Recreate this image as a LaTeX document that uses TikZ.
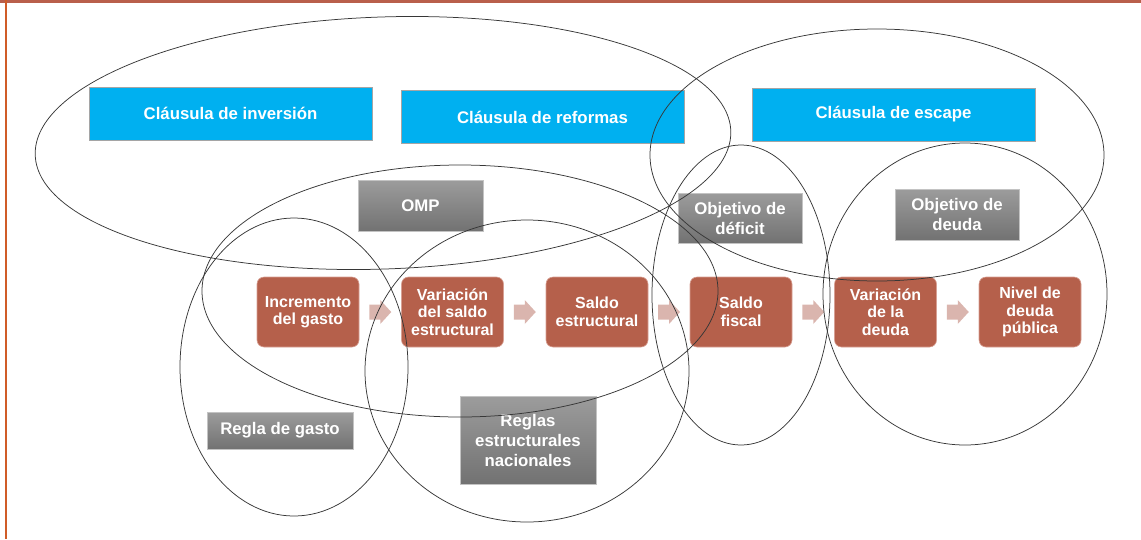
\documentclass[tikz,border=0pt]{standalone}
\usepackage{fontspec}
\setmainfont{Liberation Sans}
\usetikzlibrary{calc}
\definecolor{framecolA}{RGB}{185,95,75}
\definecolor{framecolB}{RGB}{208,92,40}
\definecolor{bluebox}{RGB}{0,176,240}
\definecolor{blueedge}{RGB}{165,165,165}
\definecolor{redbox}{RGB}{181,96,75}
\definecolor{rededge}{RGB}{215,160,148}
\definecolor{pinkarrow}{RGB}{218,181,174}
\definecolor{graytop}{RGB}{156,156,156}
\definecolor{graybot}{RGB}{114,114,114}
\definecolor{grayedge}{RGB}{195,195,195}
\definecolor{ellcol}{RGB}{55,55,55}
\begin{document}
\begin{tikzpicture}[x=1pt,y=-1pt,
  bluebx/.style={draw=blueedge, fill=bluebox, line width=0.7pt, inner sep=0pt,
    minimum width=283pt, minimum height=53pt, text=white,
    font=\fontsize{16.8}{20}\selectfont\bfseries, align=center},
  graybx/.style={draw=grayedge, top color=graytop, bottom color=graybot, line width=0.7pt,
    inner sep=0pt, text=white, font=\fontsize{16.8}{20}\selectfont\bfseries, align=center},
  redbx/.style={draw=rededge, fill=redbox, line width=0.6pt, rounded corners=7pt, inner sep=0pt,
    minimum width=102pt, minimum height=70pt, text=white,
    font=\fontsize{16}{17.5}\selectfont\bfseries, align=center},
  blockarrow/.style={fill=pinkarrow, draw=none},
  ell/.style={draw=ellcol, line width=0.75pt}
]
\useasboundingbox (0,0) rectangle (1141,539);
% frame
\fill[framecolA] (0,0) rectangle (1141,3);
\fill[framecolB] (5,0) rectangle (7.3,539);

% blue boxes
\node[bluebx] (inv) at (230.5,113.5) {Cláusula de inversión};
\node[bluebx] (ref) at (542.5,117) {Cláusula de reformas};
\node[bluebx] (esc) at (893.5,114.5) {Cláusula de escape};

% gray boxes
\node[graybx, minimum width=125pt, minimum height=51pt] (omp) at (420.5,205.5) {OMP};
\node[graybx, minimum width=124pt, minimum height=50pt] (def) at (740,218) {Objetivo de\\déficit};
\node[graybx, minimum width=124pt, minimum height=51pt] (deu) at (957,214.5) {Objetivo de\\deuda};
\node[graybx, minimum width=146pt, minimum height=37pt] (rg) at (280,430.5) {Regla de gasto};
\node[graybx, minimum width=136pt, minimum height=88pt] (ren) at (528,440) {Reglas\\estructurales\\nacionales};

% red boxes
\node[redbx] (r1) at (308,312) {Incremento\\del gasto};
\node[redbx] (r2) at (452.5,312) {Variación\\del saldo\\estructural};
\node[redbx] (r3) at (597,312) {Saldo\\estructural};
\node[redbx] (r4) at (741,312) {Saldo\\fiscal};
\node[redbx] (r5) at (885.5,312) {Variación\\de la\\deuda};
\node[redbx] (r6) at (1030,312) {Nivel de\\deuda\\pública};

% block arrows between the red boxes
\coordinate (a1) at ($(r1.east)!0.5!(r2.west)$);
\coordinate (a2) at ($(r2.east)!0.5!(r3.west)$);
\coordinate (a3) at ($(r3.east)!0.5!(r4.west)$);
\coordinate (a4) at ($(r4.east)!0.5!(r5.west)$);
\coordinate (a5) at ($(r5.east)!0.5!(r6.west)$);
\foreach \a in {a1,a2,a3,a4,a5}{
  \fill[blockarrow, shift={(\a)}] (-11,-7.5) -- (0,-7.5) -- (0,-12) -- (11,0) -- (0,12) -- (0,7.5) -- (-11,7.5) -- cycle;
}

% ellipses (drawn on top)
\draw[ell, rotate around={2:(383,143)}] (383,143) ellipse [x radius=348pt, y radius=126pt];
\draw[ell] (877,155) ellipse [x radius=227pt, y radius=126pt];
\draw[ell] (460,291) ellipse [x radius=258pt, y radius=126pt];
\draw[ell] (294,367) ellipse [x radius=114pt, y radius=149pt];
\draw[ell] (527,371) ellipse [x radius=162pt, y radius=151pt];
\draw[ell] (741,295) ellipse [x radius=89pt, y radius=150pt];
\draw[ell] (965,294) ellipse [x radius=142pt, y radius=151pt];
\end{tikzpicture}
\end{document}
